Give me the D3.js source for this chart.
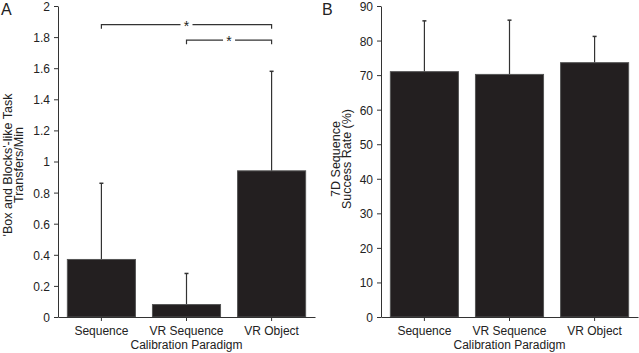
<!DOCTYPE html>
<html>
<head>
<meta charset="utf-8">
<script src="https://cdn.jsdelivr.net/npm/d3@7"></script>
<style>
  body { margin: 0; background: #fff; }
  svg { display: block; font-family: "Liberation Sans", Arial, sans-serif; }
  .axis path, .axis line { stroke: #333; }
  .axis text { font-size: 12px; fill: #222; }
</style>
</head>
<body>
<svg width="639" height="353"></svg>
<script>
const categories = ['Sequence', 'VR Sequence', 'VR Object'];

const transferMeans = [0.37, 0.08, 0.94];
const transferErrTop = [0.86, 0.28, 1.58];
const transferTicks = [0, 0.2, 0.4, 0.6, 0.8, 1, 1.2, 1.4, 1.6, 1.8, 2];

const successMeans = [71.0, 70.2, 73.6];
const successErrTop = [85.7, 85.9, 81.2];
const successTicks = [0, 10, 20, 30, 40, 50, 60, 70, 80, 90];

// significance brackets for panel A: [from, to, level]
const brackets = [
  ['Sequence', 'VR Object', 1.88],
  ['VR Sequence', 'VR Object', 1.78]
];

var svg = d3.select('svg');

function panel(opts) {
  const x = d3.scaleBand()
    .domain(categories)
    .range([opts.left, opts.right])
    .paddingInner(0.2)
    .paddingOuter(0.11);
  const y = d3.scaleLinear()
    .domain([0, opts.max])
    .range([317, 6]);

  const g = svg.append('g');

  g.append('g')
    .attr('class', 'axis')
    .attr('transform', 'translate(' + opts.left + ',0)')
    .call(d3.axisLeft(y).tickValues(opts.ticks).tickSize(4).tickSizeOuter(0).tickPadding(4)
      .tickFormat(d3.format('~g')))
    .selectAll('text').attr('dy', '0.37em');

  // error bars, drawn before bars so they rise out of the bar tops
  g.selectAll('.err')
    .data(categories)
    .enter().append('line')
    .attr('x1', d => x(d) + x.bandwidth() / 2)
    .attr('x2', d => x(d) + x.bandwidth() / 2)
    .attr('y1', (d, i) => y(opts.means[i]))
    .attr('y2', (d, i) => y(opts.err[i]))
    .attr('stroke', '#333')
    .attr('stroke-width', 1.2);

  g.selectAll('.cap')
    .data(categories)
    .enter().append('line')
    .attr('x1', d => x(d) + x.bandwidth() / 2 - 2)
    .attr('x2', d => x(d) + x.bandwidth() / 2 + 2)
    .attr('y1', (d, i) => y(opts.err[i]))
    .attr('y2', (d, i) => y(opts.err[i]))
    .attr('stroke', '#333')
    .attr('stroke-width', 1.5);

  g.selectAll('.bar')
    .data(categories)
    .enter().append('rect')
    .attr('x', d => x(d))
    .attr('width', x.bandwidth())
    .attr('y', (d, i) => y(opts.means[i]))
    .attr('height', (d, i) => y(0) - y(opts.means[i]))
    .attr('fill', '#231f20')
    .attr('stroke', '#555')
    .attr('stroke-width', 1);

  g.append('g')
    .attr('class', 'axis')
    .attr('transform', 'translate(0,' + y(0) + ')')
    .call(d3.axisBottom(x).tickSize(4).tickSizeOuter(0).tickPadding(5));

  g.append('text')
    .attr('x', (opts.left + opts.right) / 2)
    .attr('y', 349)
    .attr('text-anchor', 'middle')
    .style('font-size', '12px')
    .attr('fill', '#222')
    .text('Calibration Paradigm');

  const lab = g.append('text')
    .attr('transform', 'translate(' + opts.labelX + ',' + opts.labelY + ') rotate(-90)')
    .attr('text-anchor', 'middle')
    .style('font-size', '12.5px')
    .attr('fill', '#222');
  opts.label.forEach((t, i) => {
    lab.append('tspan').attr('x', 0).attr('dy', i === 0 ? 0 : opts.lineGap).text(t);
  });

  g.append('text')
    .attr('x', opts.letterX)
    .attr('y', 15)
    .style('font-size', '16px')
    .attr('fill', '#222')
    .text(opts.letter);

  return { x: x, y: y, g: g };
}

const a = panel({
  left: 58, right: 315, max: 2, ticks: transferTicks,
  means: transferMeans, err: transferErrTop,
  label: ["'Box and Blocks'-like Task", 'Transfers/Min'],
  labelX: 12, labelY: 165, lineGap: 10.7, letter: 'A', letterX: 1
});

panel({
  left: 381, right: 638, max: 90, ticks: successTicks,
  means: successMeans, err: successErrTop,
  label: ['7D Sequence', 'Success Rate (%)'],
  labelX: 340, labelY: 159, lineGap: 11, letter: 'B', letterX: 322
});

brackets.forEach(b => {
  const x1 = a.x(b[0]) + a.x.bandwidth() / 2;
  const x2 = a.x(b[1]) + a.x.bandwidth() / 2;
  const yy = a.y(b[2]);
  const mid = (x1 + x2) / 2;
  a.g.append('path')
    .attr('d', 'M' + x1 + ',' + (yy + 4) + 'V' + yy + 'H' + (mid - 6) +
      'M' + (mid + 6) + ',' + yy + 'H' + x2 + 'V' + (yy + 4))
    .attr('fill', 'none')
    .attr('stroke', '#333')
    .attr('stroke-width', 1.2);
  a.g.append('text')
    .attr('x', mid)
    .attr('y', yy + 6)
    .attr('text-anchor', 'middle')
    .style('font-size', '14px')
    .attr('fill', '#222')
    .text('*');
});
</script>
</body>
</html>
